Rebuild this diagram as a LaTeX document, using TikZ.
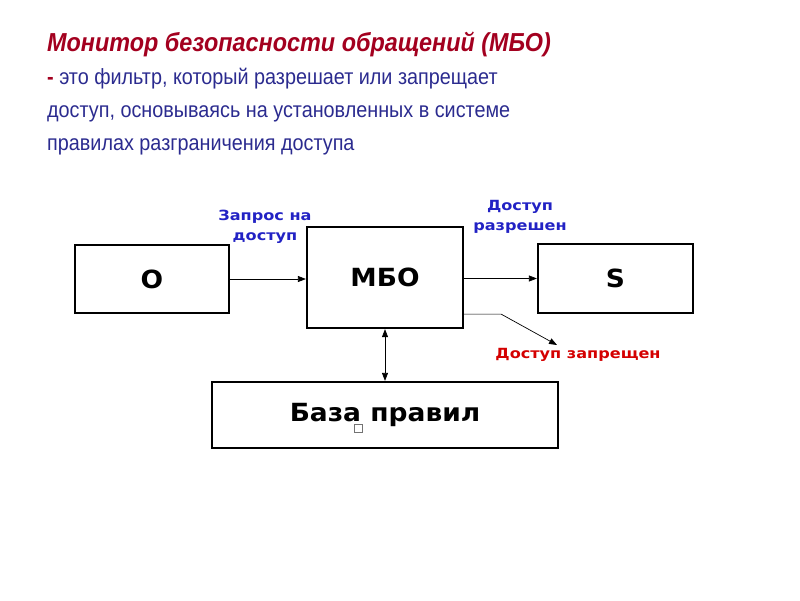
\documentclass[tikz,border=0pt]{standalone}
\usepackage{fontspec}
\setmainfont{Liberation Sans}
\newfontfamily\labelfont{DejaVu Sans}
\usetikzlibrary{arrows.meta,calc,positioning}
\definecolor{titlered}{HTML}{A3001F}
\definecolor{bodyblue}{HTML}{2B2B8F}
\definecolor{tagblue}{HTML}{2222C4}
\definecolor{tagred}{HTML}{D40000}
\newcommand{\wide}[1]{\scalebox{1.06}[1]{#1}}

\begin{document}
\begin{tikzpicture}[x=1pt,y=-1pt,>={Triangle[length=8pt,width=6pt]},
 blockbox/.style={draw,line width=2.2pt,inner sep=0pt,font=\labelfont\bfseries\fontsize{25}{25}\selectfont},
 flow/.style={->,line width=0.7pt},
 tag/.style={font=\labelfont\bfseries\fontsize{14}{20.5}\selectfont,align=center,inner sep=0pt,xscale=1.15,transform shape}]
\useasboundingbox (0,0) rectangle (800,600);
% heading
\node[anchor=north west,align=left,inner sep=0pt,text=bodyblue,font=\fontsize{22}{33}\selectfont,xscale=0.9,transform shape] (head) at (47,32)
 {{\color{titlered}\bfseries\itshape\fontsize{26}{33}\selectfont Монитор безопасности обращений (МБО)}\\
 {\color{titlered}\bfseries -} это фильтр, который разрешает или запрещает\\
 доступ, основываясь на установленных в системе\\
 правилах разграничения доступа};
% blocks
\node[blockbox,minimum width=154,minimum height=68] (obj) at (152,279) {\wide{O}};
\node[blockbox,minimum width=156,minimum height=101] (mbo) at (385,277.5) {\wide{МБО}};
\node[blockbox,minimum width=155,minimum height=69] (subj) at (615.5,278.5) {\wide{S}};
\node[blockbox,minimum width=346,minimum height=66] (rules) at (385,415) {\wide{База правил}};
\node[draw=black!55,line width=0.5pt,minimum size=8,inner sep=0pt] (glyph) at (358.5,428) {};
% connectors
\draw[flow] (obj.east) -- (obj.east -| mbo.west);
\draw[flow] (mbo.east |- subj.west) -- (subj.west);
\coordinate (deny) at (557,345);
\draw[flow] ([yshift=15pt]mbo.south east) -- ++(37,0) -- (deny);
\draw[<->,line width=0.7pt] (mbo.south) -- (rules.north);
% labels
\node[tag,text=tagblue] (ask) at (265,227) {Запрос на\\доступ};
\node[tag,text=tagblue] (allow) at (520,217) {Доступ\\разрешен};
\node[tag,text=tagred] (refuse) at (578,355) {Доступ запрещен};
\end{tikzpicture}
\end{document}
